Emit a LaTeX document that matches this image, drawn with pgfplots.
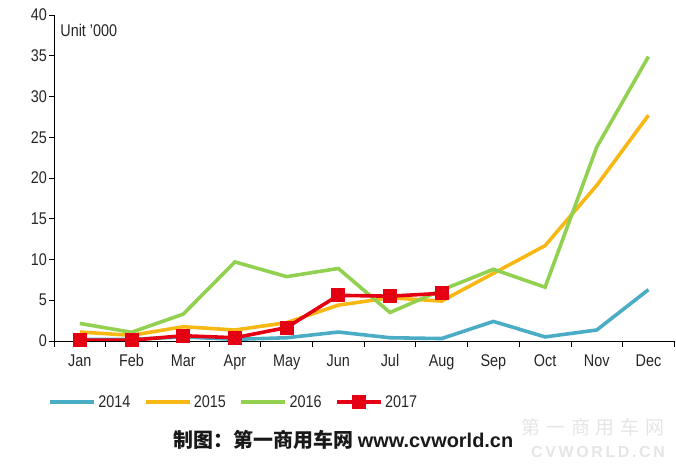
\documentclass[border=0pt]{standalone}
\usepackage{pgfplots}
\pgfplotsset{compat=1.18}
\usepackage{fontspec}
\setmainfont{Liberation Sans}[FakeStretch=0.85]
\newfontfamily\cjk{Noto Sans CJK SC}
\newfontfamily\capfont{Liberation Sans}
\definecolor{c14}{RGB}{75,172,198}
\definecolor{c15}{RGB}{247,184,20}
\definecolor{c16}{RGB}{146,208,80}
\definecolor{c17}{RGB}{228,0,18}
\begin{document}
\begin{tikzpicture}
\path[use as bounding box] (0,0) rectangle (676bp,471bp);
\begin{axis}[
  at={(54bp,130bp)}, anchor=south west,
  scale only axis, width=620.3bp, height=326bp,
  xmin=-0.5, xmax=11.5, ymin=0, ymax=40,
  axis lines*=left,
  axis line style={black, line width=0.8pt},
  ytick={0,5,...,40},
  xtick={0,...,11},
  xticklabels={Jan,Feb,Mar,Apr,May,Jun,Jul,Aug,Sep,Oct,Nov,Dec},
  major x tick style={draw=none},
  minor xtick={-0.5,0.5,...,11.5},
  tick align=outside,
  major tick length=5bp, minor tick length=6bp,
  tick style={black, line width=0.8pt},
  /pgf/number format/assume math mode=true,
  ticklabel style={font=\fontsize{17}{19}\selectfont, text=black!85},
  yticklabel style={inner sep=2bp},
  xticklabel style={yshift=-5bp},
  legend columns=4,
  legend style={draw=none, fill=none, at={(-6bp,-61bp)}, anchor=west, inner sep=0pt,
    font=\fontsize{17}{19}\selectfont, text=black!85,
    /tikz/every even column/.append style={column sep=11bp},
    nodes={inner sep=2.5bp}},
  legend image code/.code={\draw[#1, mark repeat=2, mark phase=2] plot coordinates {(0bp,0bp) (22bp,0bp) (44bp,0bp)};},
]
\addplot[c14, line width=3.6pt] coordinates {(0,0.2) (1,0.2) (2,0.5) (3,0.2) (4,0.4) (5,1.1) (6,0.4) (7,0.3) (8,2.4) (9,0.5) (10,1.35) (11,6.3)};
\addlegendentry{2014}
\addplot[c15, line width=3.6pt] coordinates {(0,1.1) (1,0.7) (2,1.75) (3,1.35) (4,2.25) (5,4.4) (6,5.3) (7,4.9) (8,8.3) (9,11.7) (10,19.1) (11,27.7)};
\addlegendentry{2015}
\addplot[c16, line width=3.6pt] coordinates {(0,2.15) (1,1.07) (2,3.3) (3,9.7) (4,7.9) (5,8.9) (6,3.5) (7,6.25) (8,8.8) (9,6.6) (10,23.8) (11,34.9)};
\addlegendentry{2016}
\addplot[c17, line width=3.6pt, mark=square*, mark size=6.5bp, mark options={solid, line width=0pt}]
  coordinates {(0,0.1) (1,0.1) (2,0.65) (3,0.4) (4,1.65) (5,5.6) (6,5.5) (7,5.85)};
\addlegendentry{2017}
\node[anchor=west, font=\fontsize{17}{19}\selectfont, text=black!85, inner sep=0pt] at (rel axis cs:0.01,0.954) {Unit '000};
\end{axis}
\node[font=\fontsize{19}{20}\selectfont, text=black!10] at (593bp,44bp) {\cjk 第\hspace{6bp}一\hspace{6bp}商\hspace{6bp}用\hspace{6bp}车\hspace{6bp}网};
\node[font=\bfseries\fontsize{16}{18}\selectfont, text=black!10] at (598bp,19bp) {\capfont C\,V\,W\,O\,R\,L\,D\,.\,C\,N};
\node[font=\bfseries\fontsize{20}{22}\selectfont, text=black!90] at (343.5bp,31bp) {{\cjk 制图：第一商用车网} \capfont www.cvworld.cn};
\end{tikzpicture}
\end{document}
